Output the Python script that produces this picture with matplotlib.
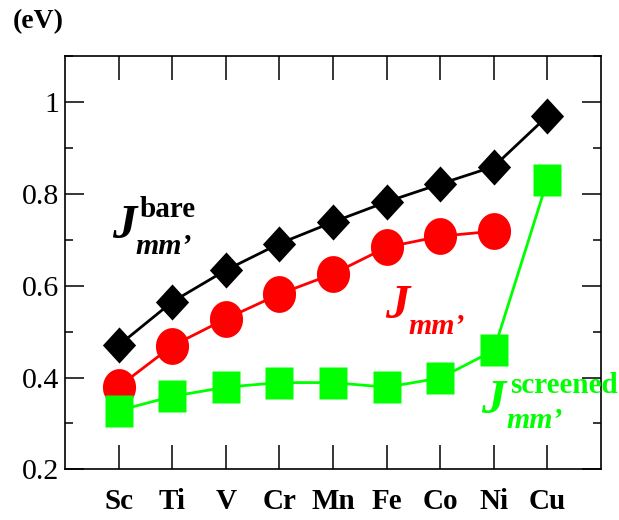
import numpy as np
import matplotlib
matplotlib.use("Agg")
import matplotlib.pyplot as plt
from matplotlib.ticker import MultipleLocator

plt.rcParams['font.family'] = ['Liberation Serif', 'DejaVu Serif']

elements = ["Sc", "Ti", "V", "Cr", "Mn", "Fe", "Co", "Ni", "Cu"]
j_bare = [0.47, 0.565, 0.634, 0.692, 0.739, 0.783, 0.822, 0.86, 0.97]
j_mm = [0.38, 0.469, 0.528, 0.582, 0.626, 0.684, 0.708, 0.719]
j_screened = [0.328, 0.359, 0.379, 0.389, 0.389, 0.379, 0.399, 0.459, 0.83]

x = np.arange(1, len(elements) + 1)

# markers in the original are a bit taller than wide
t = np.linspace(0, 2 * np.pi, 60)
ellipse = list(zip(0.9 * np.cos(t), np.sin(t)))
diamond = [(0, 1), (0.92, 0), (0, -1), (-0.92, 0), (0, 1)]
square = [(-0.91, -1), (0.91, -1), (0.91, 1), (-0.91, 1), (-0.91, -1)]

fig = plt.figure(figsize=(6.19, 5.2), dpi=100)
ax = fig.add_axes([0.105, 0.0975, 0.866, 0.794])

ax.plot(x, j_bare, color="black", lw=2, marker=diamond, ms=26, mec="none", zorder=3)
ax.plot(x[:len(j_mm)], j_mm, color="red", lw=2, marker=ellipse, ms=26.5, mec="none", zorder=2)
ax.plot(x, j_screened, color="#00ff00", lw=2, marker=square, ms=22.5, mec="none", zorder=4)

ax.set_xlim(0, 10)
ax.set_ylim(0.2, 1.1)
ax.set_xticks(x)
ax.set_xticklabels(elements, fontsize=21, fontweight="bold")
ax.yaxis.set_major_locator(MultipleLocator(0.2))
ax.yaxis.set_minor_locator(MultipleLocator(0.1))
ax.set_yticks([0.2, 0.4, 0.6, 0.8, 1.0])
ax.set_yticklabels(["0.2", "0.4", "0.6", "0.8", "1"], fontsize=21.5)

ax.tick_params(axis="x", which="major", direction="in", length=17, width=1.1,
               top=True, bottom=True, pad=13.5)
ax.tick_params(axis="y", which="major", direction="in", length=13.5, width=1.1,
               left=True, right=True, pad=4)
ax.tick_params(axis="y", which="minor", direction="in", length=6, width=1.1,
               left=True, right=True)
for s in ax.spines.values():
    s.set_linewidth(1.2)

fig.text(0.02, 0.945, "(eV)", fontsize=20, fontweight="bold")

# labels
ax.text(0.87, 0.705, "J", fontsize=35, fontweight="bold", style="italic", color="black")
ax.text(1.40, 0.75, "bare", fontsize=21, fontweight="bold", color="black")
ax.text(1.31, 0.67, "mm\u2019", fontsize=21.5, fontweight="bold", style="italic", color="black")

ax.text(5.97, 0.53, "J", fontsize=35, fontweight="bold", style="italic", color="red")
ax.text(6.40, 0.495, "mm\u2019", fontsize=21.5, fontweight="bold", style="italic", color="red")

ax.text(7.77, 0.323, "J", fontsize=35, fontweight="bold", style="italic", color="#00ff00")
ax.text(8.30, 0.367, "screened", fontsize=21, fontweight="bold", color="#00ff00", clip_on=False)
ax.text(8.24, 0.29, "mm\u2019", fontsize=21.5, fontweight="bold", style="italic", color="#00ff00")

fig.savefig("out.png", dpi=100)
